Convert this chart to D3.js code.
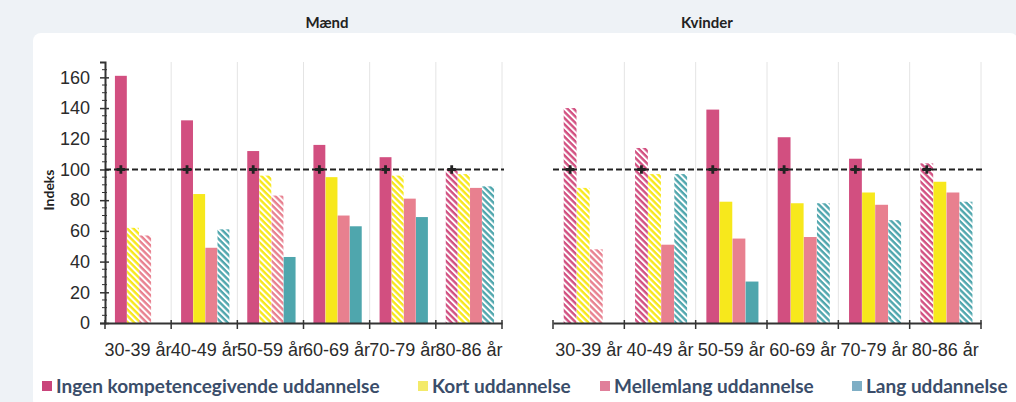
<!DOCTYPE html>
<html><head><meta charset="utf-8">
<script src="https://cdn.jsdelivr.net/npm/d3@7"></script>
<style>
html,body{margin:0;padding:0;background:#eef2f6;}
svg{display:block;font-family:Lato,"Open Sans",sans-serif;}
</style></head>
<body>
<svg id="chart" width="1016" height="402"></svg>
<script>
const categories = ["30-39 år","40-49 år","50-59 år","60-69 år","70-79 år","80-86 år"];
const seriesNames = ["Ingen kompetencegivende uddannelse","Kort uddannelse","Mellemlang uddannelse","Lang uddannelse"];
const yTicks = [0,20,40,60,80,100,120,140,160];
const refValue = 100;

// Mænd
const maendIngen  = [161,132,112,116,108,100];
const maendKort   = [62,84,96,95,96,97];
const maendMellem = [57,49,83,70,81,88];
const maendLang   = [null,61,43,63,69,89];
const maendIngenHatch  = [0,0,0,0,0,1];
const maendKortHatch   = [1,0,1,0,1,1];
const maendMellemHatch = [1,0,1,0,0,0];
const maendLangHatch   = [0,1,0,0,0,1];

// Kvinder
const kvIngen  = [140,114,139,121,107,104];
const kvKort   = [88,97,79,78,85,92];
const kvMellem = [48,51,55,56,77,85];
const kvLang   = [null,97,27,78,67,79];
const kvIngenHatch  = [1,1,0,0,0,1];
const kvKortHatch   = [1,1,0,0,0,0];
const kvMellemHatch = [1,0,0,0,0,0];
const kvLangHatch   = [0,1,0,1,1,1];

const colors = ["#d24f80","#f7e81c","#e8808f","#4fa6ad"];
const legendColors = ["#c9447a","#f3ea6a","#e07f9a","#7eaec5"];

const svg = d3.select("#chart");
// white card
svg.append("rect").attr("x",33).attr("y",33).attr("width",985).attr("height",375).attr("rx",8).attr("fill","#ffffff");

const defs = svg.append("defs");
colors.forEach((c,i)=>{
  const p = defs.append("pattern").attr("id","hatch"+i).attr("patternUnits","userSpaceOnUse")
    .attr("width",4.4).attr("height",4.4).attr("patternTransform","rotate(-45)");
  p.append("rect").attr("width",4.4).attr("height",4.4).attr("fill",c);
  p.append("rect").attr("width",2).attr("height",4.4).attr("fill","#ffffff");
});

const y = d3.scaleLinear().domain([0,170]).range([323,62]);

function panel(opts){
  const {x0,x1,title,titleX,data,hatch,showY} = opts;
  const x = d3.scaleBand().domain(categories).range([x0,x1]).padding(0);
  const bw = x.bandwidth();
  const xs = d3.scaleBand().domain(d3.range(4)).range([bw*0.15, bw*0.88]).paddingInner(0.02);
  const g = svg.append("g");
  // gridlines
  g.selectAll("line.grid").data(categories).join("line")
    .attr("x1",d=>x(d)+bw).attr("x2",d=>x(d)+bw).attr("y1",y(170)).attr("y2",y(0))
    .attr("stroke","#e4e4e4").attr("stroke-width",1);
  // bars
  data.forEach((vals,si)=>{
    g.selectAll(null).data(vals.map((v,i)=>({v,i,h:hatch[si][i]})).filter(d=>d.v!=null)).join("rect")
      .attr("x",d=>x(categories[d.i])+xs(si))
      .attr("width",xs.bandwidth())
      .attr("y",d=>y(d.v)).attr("height",d=>y(0)-y(d.v))
      .attr("fill",d=>d.h?`url(#hatch${si})`:colors[si]);
  });
  // x axis
  const xa = g.append("g").attr("transform",`translate(0,${y(0)})`)
    .call(d3.axisBottom(x).tickSize(0).tickPadding(20));
  xa.select(".domain").attr("stroke","#333").attr("stroke-width",2);
  xa.selectAll("text").attr("font-size",18).attr("fill","#2b2b2b");
  g.selectAll("line.xt").data([x0,...categories.map(c=>x(c)+bw)]).join("line")
    .attr("x1",d=>d).attr("x2",d=>d).attr("y1",y(0)-3).attr("y2",y(0)+6)
    .attr("stroke","#333").attr("stroke-width",1.5);
  if(showY){
    const ya = g.append("g").attr("transform",`translate(${x0},0)`)
      .call(d3.axisLeft(y).tickValues(yTicks).tickSize(5).tickPadding(10));
    ya.select(".domain").attr("stroke","#333").attr("stroke-width",2);
    ya.selectAll(".tick line").attr("stroke","#333").attr("stroke-width",1.5).attr("x2",-5).attr("x1",4);
    ya.selectAll("text").attr("font-size",18).attr("fill","#2b2b2b");
    const minor = d3.range(5,170,5).filter(v=>v%20!==0);
    g.selectAll("line.minor").data(minor).join("line")
      .attr("x1",x0-3).attr("x2",x0+2).attr("y1",d=>y(d)).attr("y2",d=>y(d))
      .attr("stroke","#333").attr("stroke-width",1);
    svg.append("text").attr("transform",`translate(54,${190}) rotate(-90)`)
      .attr("text-anchor","middle").attr("font-size",14).attr("font-weight",700).attr("fill","#222").text("Indeks");
  }
  // reference line
  g.append("line").attr("x1",x0).attr("x2",x1+2).attr("y1",y(refValue)).attr("y2",y(refValue))
    .attr("stroke","#222").attr("stroke-width",2).attr("stroke-dasharray","6,3");
  g.selectAll("path.mk").data(categories).join("path")
    .attr("d",d3.symbol(d3.symbolCross,40))
    .attr("transform",d=>`translate(${x(d)+xs(0)+xs.bandwidth()/2},${y(refValue)})`)
    .attr("fill","#222");
  // title
  svg.append("text").attr("x",titleX).attr("y",28).attr("text-anchor","middle")
    .attr("font-size",15).attr("font-weight",700).attr("fill","#222").text(title);
}

panel({x0:105,x1:502,title:"Mænd",titleX:327,showY:true,
  data:[maendIngen,maendKort,maendMellem,maendLang],
  hatch:[maendIngenHatch,maendKortHatch,maendMellemHatch,maendLangHatch]});
panel({x0:553,x1:981,title:"Kvinder",titleX:707,showY:false,
  data:[kvIngen,kvKort,kvMellem,kvLang],
  hatch:[kvIngenHatch,kvKortHatch,kvMellemHatch,kvLangHatch]});

// legend
const legendX = [42,418,600,852];
const lg = svg.append("g");
seriesNames.forEach((s,i)=>{
  lg.append("rect").attr("x",legendX[i]).attr("y",381).attr("width",10).attr("height",10).attr("fill",legendColors[i]);
  lg.append("text").attr("x",legendX[i]+14).attr("y",393).attr("font-size",19).attr("font-weight",700).attr("fill","#3a4d6a").text(s);
});
</script>
</body></html>
